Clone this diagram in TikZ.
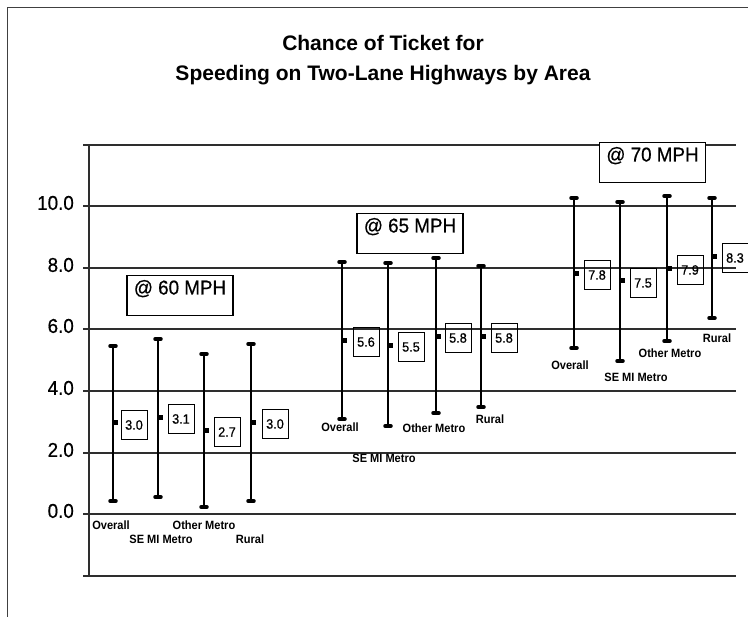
\documentclass[tikz,border=0pt]{standalone}
\usepackage{fontspec}
\setmainfont{Liberation Sans}
\newfontfamily\catfont[FakeStretch=0.92]{Liberation Sans}
\newfontfamily\scanfont[FakeStretch=0.94,FakeBold=0.6]{Liberation Sans}
\begin{document}
\begin{tikzpicture}[x=1pt,y=-1pt,
  gridln/.style={line width=1.5pt, draw=black!82},
  frameln/.style={line width=1pt, draw=black!75},
  whisk/.style={line width=2.2pt},
  capbar/.style={line width=3.5pt, line cap=round},
  valbox/.style={draw, line width=0.9pt, minimum width=26pt, minimum height=29pt, inner sep=0pt, font=\scanfont\fontsize{13.5}{15}\selectfont},
  mphbox/.style={draw, line width=1.3pt, fill=white, minimum width=106pt, inner xsep=0pt, inner ysep=5pt, text height=14pt, text depth=16pt, font=\scanfont\fontsize{20}{22}\selectfont},
  catlab/.style={font=\catfont\bfseries\fontsize{12}{14}\selectfont, inner sep=0pt},
  ticklab/.style={anchor=east, font=\scanfont\fontsize{20}{22}\selectfont, inner sep=0pt},
  titlelab/.style={font=\bfseries\fontsize{21}{30}\selectfont, align=center, inner sep=0pt},
]
\useasboundingbox (0,0) rectangle (748,617);
\newcommand{\ebar}[8]{%
  \coordinate (#1t) at (#2,#3);
  \coordinate (#1b) at (#2,#4);
  \coordinate (#1m) at (#2,#5);
  \draw[whisk] (#1t) -- (#1b);
  \draw[capbar] ([xshift=-3pt]#1t) -- ([xshift=3pt]#1t);
  \draw[capbar] ([xshift=-3pt]#1b) -- ([xshift=3pt]#1b);
  \fill ([yshift=2.5pt]#1m) rectangle ([xshift=4.5pt,yshift=-2.5pt]#1m);
  \node[valbox] (#1v) at (#7,#8) {#6};
}
% outer frame
\draw[frameln] (7,617) -- (7,8) -- (748,8);
% title
\node[titlelab] (title) at (383,60) {Chance of Ticket for\\Speeding on Two-Lane Highways by Area};
% grid
\foreach \yy in {145,206,268,329,391,453,514,576} \draw[gridln] (83,\yy) -- (736,\yy);
\draw[gridln] (89,145) -- (89,576);
% tick labels
\node[ticklab] (t10) at (74,203) {10.0};
\node[ticklab] (t8) at (74,265) {8.0};
\node[ticklab] (t6) at (74,326) {6.0};
\node[ticklab] (t4) at (74,388) {4.0};
\node[ticklab] (t2) at (74,450) {2.0};
\node[ticklab] (t0) at (74,511) {0.0};
% group 60
\ebar{a1}{113}{346}{501}{423}{3.0}{134}{425}
\ebar{a2}{158}{339}{497}{418}{3.1}{181}{419}
\ebar{a3}{204}{354}{507}{431}{2.7}{227}{432}
\ebar{a4}{251}{344}{501}{423}{3.0}{275}{424}
% group 65
\ebar{b1}{342}{262}{419}{341}{5.6}{366}{342}
\ebar{b2}{388}{263}{426}{346}{5.5}{411}{347}
\ebar{b3}{436}{258}{413}{337}{5.8}{458}{338}
\ebar{b4}{481}{266}{407}{337}{5.8}{504}{338}
% group 70
\ebar{c1}{574}{198}{348}{274}{7.8}{597}{275}
\ebar{c2}{620}{202}{361}{281}{7.5}{643}{283}
\ebar{c3}{667}{196}{341}{269}{7.9}{690}{270}
\ebar{c4}{712}{198}{318}{257}{8.3}{735}{258}
% speed boxes
\node[mphbox] (m60) at (180,295.5) {@ 60 MPH};
\node[mphbox] (m65) at (410,233.5) {@ 65 MPH};
\node[mphbox] (m70) at (652.5,162.5) {@ 70 MPH};
% category labels
\node[catlab] (la1) at (111,525) {Overall};
\node[catlab] (la2) at (161,539) {SE MI Metro};
\node[catlab] (la3) at (204,525) {Other Metro};
\node[catlab] (la4) at (250,539) {Rural};
\node[catlab] (lb1) at (340,427) {Overall};
\node[catlab] (lb2) at (384,458) {SE MI Metro};
\node[catlab] (lb3) at (434,428) {Other Metro};
\node[catlab] (lb4) at (490,419) {Rural};
\node[catlab] (lc1) at (570,365) {Overall};
\node[catlab] (lc2) at (636,377) {SE MI Metro};
\node[catlab] (lc3) at (670,353) {Other Metro};
\node[catlab] (lc4) at (717,338) {Rural};
\end{tikzpicture}
\end{document}
